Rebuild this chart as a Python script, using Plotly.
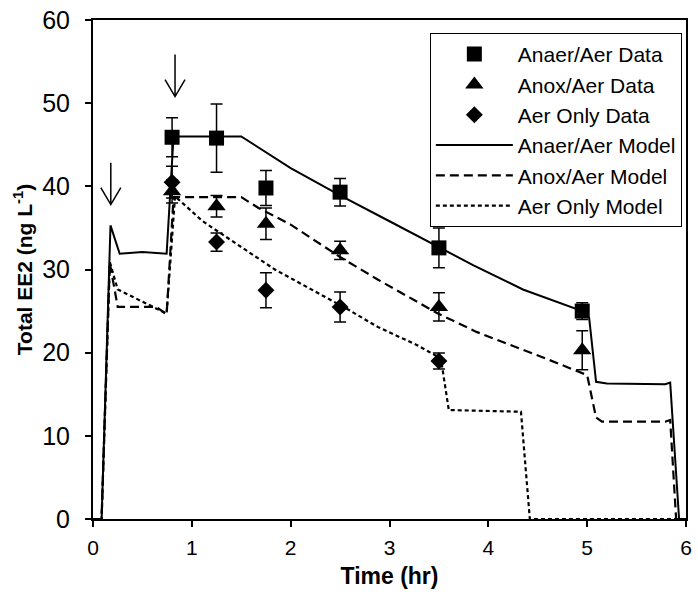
import plotly.graph_objects as go

# ---- measured data ----
t_data = [0.8, 1.25, 1.75, 2.5, 3.5, 4.95]
t_data_aer = [0.8, 1.25, 1.75, 2.5, 3.5]

anaer_y = [45.9, 45.8, 39.8, 39.3, 32.6, 25.0]
anaer_err = [2.35, 4.1, 2.1, 1.65, 2.4, 1.0]
anox_y = [39.4, 37.6, 35.5, 32.3, 25.5, 20.3]
anox_err = [1.4, 1.3, 1.9, 1.1, 1.7, 2.35]
aer_y = [40.5, 33.3, 27.5, 25.5, 19.0]
aer_err = [1.9, 1.1, 2.1, 1.8, 0.95]

# model curves
anaer_mx = [0, 0.087, 0.177, 0.27, 0.5, 0.745, 0.815, 1.5, 2.0, 2.5, 3.0, 3.5, 3.85, 4.35, 4.95, 5.02, 5.09, 5.2, 5.79, 5.84, 5.93, 6.0]
anaer_my = [0, 0, 35.3, 31.9, 32.1, 31.9, 46.0, 46.0, 42.2, 38.9, 35.8, 32.7, 30.5, 27.6, 25.0, 24.2, 16.5, 16.3, 16.2, 16.4, 0, 0]
anox_mx = [0, 0.087, 0.17, 0.25, 0.64, 0.745, 0.815, 1.5, 1.675, 2.0, 2.5, 2.88, 3.49, 3.88, 4.58, 4.95, 5.0, 5.09, 5.15, 5.79, 5.84, 5.9, 6.0]
anox_my = [0, 0, 30.8, 25.5, 25.5, 24.6, 38.7, 38.7, 37.4, 35.4, 31.5, 28.8, 24.7, 22.5, 19.3, 17.6, 17.3, 12.2, 11.7, 11.7, 11.9, 0, 0]
aer_mx = [0, 0.087, 0.17, 0.25, 0.745, 0.83, 1.11, 1.54, 1.84, 2.58, 2.88, 3.28, 3.52, 3.6, 4.33, 4.42, 6.0]
aer_my = [0, 0, 30.9, 27.6, 24.7, 38.8, 35.8, 32.4, 30.0, 25.2, 23.1, 20.9, 19.3, 13.1, 12.9, 0, 0]

# arrow tips (time, concentration)
arrow_x = [0.18, 0.83]
arrow_y = [37.8, 50.8]

x_ticks = [0, 1, 2, 3, 4, 5, 6]
y_ticks = [0, 10, 20, 30, 40, 50, 60]

FONT = "Liberation Sans, Arial, sans-serif"

fig = go.Figure()

# models first (drawn behind markers)
fig.add_trace(go.Scatter(x=anaer_mx, y=anaer_my, mode="lines", name="Anaer/Aer Model",
                         line=dict(color="black", width=2), legendrank=4))
fig.add_trace(go.Scatter(x=anox_mx, y=anox_my, mode="lines", name="Anox/Aer Model",
                         line=dict(color="black", width=2.2, dash="9px,5px"), legendrank=5))
fig.add_trace(go.Scatter(x=aer_mx, y=aer_my, mode="lines", name="Aer Only Model",
                         line=dict(color="black", width=2.2, dash="4px,3px"), legendrank=6))

eb = dict(type="data", color="black", thickness=1.5, width=6)
fig.add_trace(go.Scatter(x=t_data, y=anaer_y, mode="markers", name="Anaer/Aer Data",
                         marker=dict(symbol="square", size=15, color="black"),
                         error_y=dict(array=anaer_err, **eb), legendrank=1))
fig.add_trace(go.Scatter(x=t_data, y=anox_y, mode="markers", name="Anox/Aer Data",
                         marker=dict(symbol="triangle-up", size=16, color="black"),
                         error_y=dict(array=anox_err, **eb), legendrank=2))
fig.add_trace(go.Scatter(x=t_data_aer, y=aer_y, mode="markers", name="Aer Only Data",
                         marker=dict(symbol="diamond", size=13, color="black"),
                         error_y=dict(array=aer_err, **eb), legendrank=3))

shapes = []
for ax_, ay_ in zip(arrow_x, arrow_y):
    shapes.append(dict(type="path", xref="x", yref="y", xsizemode="pixel", ysizemode="pixel",
                       xanchor=ax_, yanchor=ay_,
                       path="M0,0 L0,42 M-10,17 L0,0 L10,17",
                       line=dict(color="black", width=1.5)))

fig.update_layout(
    width=698, height=596,
    margin=dict(l=93, r=6, t=15, b=77),
    paper_bgcolor="white", plot_bgcolor="white",
    font=dict(family=FONT, color="black", size=20),
    showlegend=True,
    legend=dict(x=0.993, y=0.974, xanchor="right", yanchor="top",
                bgcolor="white", bordercolor="black", borderwidth=1,
                font=dict(family=FONT, size=21, color="black"),
                tracegroupgap=0, itemwidth=77),
    shapes=shapes,
    xaxis=dict(range=[0, 6], tickvals=x_ticks, ticktext=[str(v) for v in x_ticks],
               showline=True, linecolor="black", linewidth=2, mirror=True,
               ticks="outside", ticklen=6, tickwidth=1.5, tickcolor="black",
               showgrid=False, zeroline=False, ticklabelstandoff=3,
               tickfont=dict(family=FONT, size=21),
               title=dict(text="<b>Time (hr)</b>", font=dict(family=FONT, size=23), standoff=10)),
    yaxis=dict(range=[0, 60], tickvals=y_ticks, ticktext=[str(v) for v in y_ticks],
               showline=True, linecolor="black", linewidth=2, mirror=True,
               ticks="outside", ticklen=6, tickwidth=1.5, tickcolor="black",
               showgrid=False, zeroline=False, ticklabelstandoff=10,
               tickfont=dict(family=FONT, size=25),
               title=dict(text="<b>Total EE2 (ng L<sup>-1</sup>)</b>", font=dict(family=FONT, size=21), standoff=4)),
)

fig.write_html("out.html")
